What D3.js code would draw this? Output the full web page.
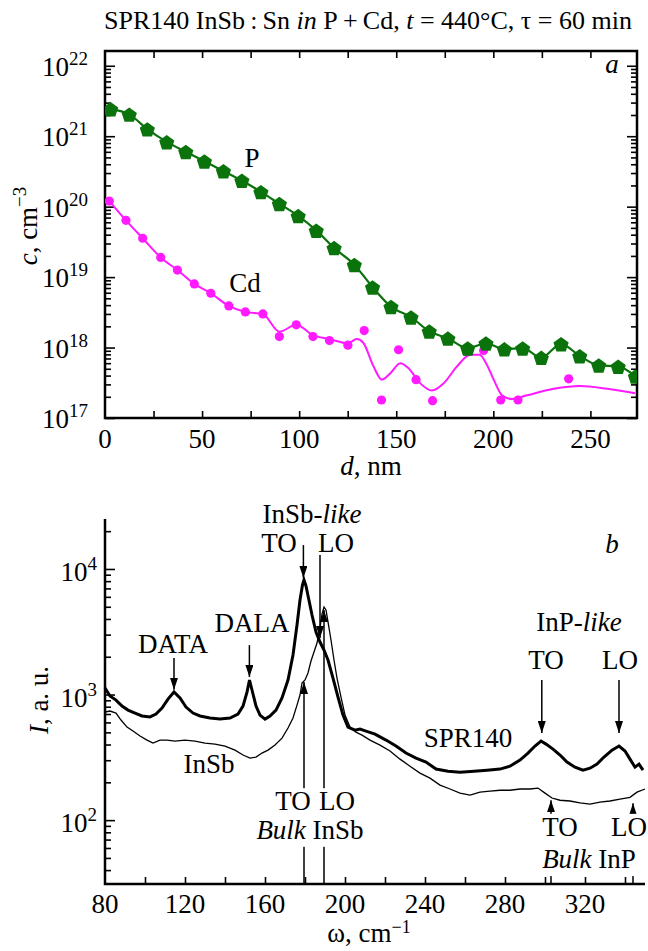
<!DOCTYPE html>
<html>
<head>
<meta charset="utf-8">
<script src="https://cdn.jsdelivr.net/npm/d3@7"></script>
<style>
  body { margin: 0; background: #fff; }
  svg { font-family: "Liberation Serif", "Times New Roman", serif; }
</style>
</head>
<body>
<svg id="chart" width="648" height="951"></svg>
<script>
// ---- panel a: depth profiles (d, nm ; c, cm^-3)
const pDepth = [2.9, 12.5, 21.8, 31.8, 41.6, 51.2, 61, 70.5, 80.3, 89.8, 99.5, 108.8, 118, 128.4, 137.8,
  147.3, 157.6, 167, 176.6, 186.8, 196.2, 205.7, 215.1, 224.7, 234.9, 244.5, 254.3, 264.3, 273.2];
const pConc = [2.43e21, 2.04e21, 1.26e21, 8.3e20, 6.0e20, 4.4e20, 3.2e20, 2.35e20, 1.62e20, 1.1e20, 7.4e19,
  4.6e19, 2.6e19, 1.5e19, 7.2e18, 3.8e18, 2.7e18, 1.7e18, 1.35e18, 9.8e17, 1.15e18, 9.5e17, 9.8e17, 7.2e17,
  1.12e18, 7.6e17, 5.6e17, 5.4e17, 3.9e17];

const cdDepth = [2.2, 10.8, 19.4, 28.7, 37.3, 46, 54.5, 63.8, 72.3, 81.3, 89.8, 98.5, 107.1, 115.6, 125.1,
  133.5, 142.4, 151.2, 160.2, 168.7, 186.4, 195, 203.8, 212.7, 238.8];
const cdConc = [1.2e20, 6.4e19, 3.56e19, 1.9e19, 1.26e19, 8.0e18, 5.9e18, 3.9e18, 3.2e18, 3.0e18, 1.43e18,
  2.1e18, 1.43e18, 1.26e18, 1.08e18, 1.74e18, 1.8e17, 9.3e17, 3.5e17, 1.76e17, 8.7e17, 9.1e17, 1.8e17,
  1.8e17, 3.6e17];

// smooth Cd fit line
const cdFitDepth = [2.2, 10.8, 19.4, 28.7, 37.3, 46, 54.5, 63.8, 72.3, 81.3, 89.8, 98.5, 107.1, 115.6, 125.1,
  129.7, 133, 138.3, 142.6, 146.9, 152.1, 156.3, 162.4, 168.4, 174.4, 181.3, 188.1, 192.9, 196.8, 200.2,
  204.5, 209.6, 217.4, 231.1, 244.8, 258.6, 273.2];
const cdFitConc = [1.2e20, 6.4e19, 3.56e19, 1.9e19, 1.26e19, 8.0e18, 5.9e18, 3.9e18, 3.2e18, 3.0e18, 1.68e18,
  2.1e18, 1.5e18, 1.32e18, 1.15e18, 1.32e18, 1.17e18, 5.4e17, 3.5e17, 4.3e17, 6.0e17, 5.1e17, 3.1e17,
  2.45e17, 3.1e17, 5.4e17, 7.9e17, 7.9e17, 5.6e17, 3.5e17, 2.1e17, 1.86e17, 2.1e17, 2.6e17, 2.85e17,
  2.6e17, 2.24e17];

const depthTicks = [0, 50, 100, 150, 200, 250];
const concDecades = [17, 18, 19, 20, 21, 22];

// ---- panel b: Raman spectra (omega, cm^-1 ; I, a.u.)
const sprW = [80, 82.5, 85.5, 88.5, 91.5, 95, 98.5, 102.5, 105.5, 108.5, 111.5, 114.5, 117.5, 120.5, 124,
  127.5, 132.5, 137.5, 142.5, 146.5, 149, 151, 152.25, 153.5, 155.5, 157.5, 160, 162.5, 165.5, 168.5, 171.5,
  174, 176, 177.5, 178.75, 179.5, 180.5, 181.75, 183.5, 185.5, 187.5, 189.5, 191.5, 194, 196.5, 199, 201.5,
  205, 207.5, 210.5, 215, 220.5, 225.5, 230.5, 235.5, 240.5, 245.5, 251.5, 257.5, 264.5, 271, 277.5, 282.5,
  287.5, 291.5, 295, 298, 300.5, 304, 307.5, 311, 315, 319, 322.5, 326, 329.5, 333.5, 337, 340, 342.5, 345,
  347, 349];
const sprI = [1128, 973, 903, 809, 752, 712, 675, 663, 700, 780, 920, 1047, 938, 795, 712, 675, 650, 638, 650,
  700, 809, 1047, 1306, 1087, 809, 686, 638, 675, 752, 938, 1306, 2065, 3580, 5660, 7460, 8170, 7330, 5880,
  4300, 3145, 2620, 2263, 1884, 1352, 955, 686, 551, 521, 531, 512, 484, 434, 389, 342, 312, 290, 255, 245,
  241, 245, 250, 255, 269, 301, 342, 389, 426, 403, 368, 330, 290, 264, 250, 259, 279, 318, 361, 389, 355,
  306, 264, 279, 250];

const insbW = [80, 82.5, 85.5, 88, 91, 94, 97.5, 101, 104, 107.5, 111, 115, 120, 125, 130, 135, 140, 145, 149,
  152.5, 155.5, 158.5, 161.5, 165, 168.5, 171.5, 174, 176, 177.5, 178.5, 180, 181.5, 183, 184.5, 186, 187.5,
  188.5, 189.5, 190.5, 191.5, 193, 194.5, 196, 198, 200, 202.5, 205.5, 208.5, 212.5, 217.5, 222.5, 227.5,
  232.5, 237.5, 242.5, 247.5, 252.5, 257.5, 262.5, 267.5, 272.5, 277.5, 282.5, 287.5, 292.5, 296.5, 300,
  303.5, 307.5, 312.5, 317.5, 322.5, 327.5, 332.5, 337.5, 342.5, 346, 350];
const insbI = [726, 739, 712, 627, 551, 512, 467, 434, 411, 434, 434, 426, 434, 426, 411, 403, 389, 361, 330,
  312, 318, 342, 361, 396, 450, 541, 650, 824, 991, 1236, 1306, 1484, 1849, 2182, 2572, 3388, 4378, 4977,
  4713, 3784, 2719, 1884, 1352, 955, 686, 551, 502, 475, 434, 396, 355, 306, 269, 237, 216, 190, 177, 164,
  158, 167, 170, 173, 173, 177, 177, 180, 164, 150, 144, 142, 137, 134, 139, 142, 147, 152, 167, 177];

const omegaTicks = [80, 120, 160, 200, 240, 280, 320];
const intDecades = [2, 3, 4];

// arrows: [omega, from I, to I]
const downArrows = [[114.5, 1955, 1090], [152.2, 2475, 1380], [179.2, 15500, 8470], [187.5, 12930, 2820],
  [298.4, 1306, 493], [337, 1306, 493]];
const upArrows = [[179.5, 31, 1259], [189.5, 31, 4710], [303, 31, 144], [344, 31, 136]];

const svg = d3.select("#chart");
const FS = 27;

// ================= panel a =================
const xa = d3.scaleLinear().domain([0, 274]).range([105, 637]);
const ya = d3.scaleLog().domain([1e17, 1.62e22]).range([418, 51]);

function logMinors(lo, hi) {
  const out = [];
  for (let e = lo; e < hi; e++) for (let m = 2; m <= 9; m++) out.push(m * Math.pow(10, e));
  return out;
}

const ga = svg.append("g");
ga.append("rect").attr("x", 105).attr("y", 51).attr("width", 532).attr("height", 367)
  .attr("fill", "none").attr("stroke", "#000").attr("stroke-width", 2.5);

function tickAxis(g, axis) {
  g.call(axis);
  g.select(".domain").remove();
  g.selectAll(".tick line").attr("stroke", "#000").attr("stroke-width", 1.6);
  g.selectAll(".tick text").remove();
}
const aMaj = concDecades.map(e => Math.pow(10, e));
const aMin = logMinors(17, 22).concat([2e22]).filter(v => v <= 1.62e22);
tickAxis(ga.append("g").attr("transform", "translate(105,0)"), d3.axisLeft(ya).tickValues(aMaj).tickSize(-10));
tickAxis(ga.append("g").attr("transform", "translate(105,0)"), d3.axisLeft(ya).tickValues(aMin).tickSize(-6));
tickAxis(ga.append("g").attr("transform", "translate(637,0)"), d3.axisRight(ya).tickValues(aMaj).tickSize(-10));
tickAxis(ga.append("g").attr("transform", "translate(637,0)"), d3.axisRight(ya).tickValues(aMin).tickSize(-6));
const dTicks = d3.range(25, 274, 25);
tickAxis(ga.append("g").attr("transform", "translate(0,418)"), d3.axisBottom(xa).tickValues(dTicks).tickSize(-7));
tickAxis(ga.append("g").attr("transform", "translate(0,51)"), d3.axisTop(xa).tickValues(dTicks).tickSize(-7));

// tick labels
ga.selectAll(".xlab").data(depthTicks).join("text")
  .attr("x", d => xa(d)).attr("y", 448).attr("text-anchor", "middle").attr("font-size", FS).text(d => d);

function powLabel(g, yPos, xEnd, e) {
  const t = g.append("text").attr("x", xEnd).attr("y", yPos).attr("text-anchor", "end").attr("font-size", FS);
  t.append("tspan").text("10");
  t.append("tspan").attr("font-size", 19).attr("dy", -11).text(e);
}
concDecades.forEach(e => powLabel(ga, ya(Math.pow(10, e)) + 10, 88, e));

// axis titles
ga.append("text").attr("x", 371).attr("y", 475).attr("text-anchor", "middle").attr("font-size", FS)
  .call(t => { t.append("tspan").attr("font-style", "italic").text("d"); t.append("tspan").text(", nm"); });
ga.append("text").attr("transform", "translate(37,226) rotate(-90)").attr("text-anchor", "middle")
  .attr("font-size", FS)
  .call(t => {
    t.append("tspan").attr("font-style", "italic").text("c");
    t.append("tspan").text(", cm");
    t.append("tspan").attr("font-size", 19).attr("dy", -11).text("\u22123");
  });

// data
const clipA = svg.append("clipPath").attr("id", "clipA");
clipA.append("rect").attr("x", 105).attr("y", 51).attr("width", 532).attr("height", 367);
const plotA = ga.append("g").attr("clip-path", "url(#clipA)");

const green = "#0b730b", magenta = "#ff1aff";
const lineA = d3.line().x(d => xa(d[0])).y(d => ya(d[1])).curve(d3.curveMonotoneX);

plotA.append("path").datum(d3.zip(cdFitDepth, cdFitConc)).attr("d", lineA)
  .attr("fill", "none").attr("stroke", magenta).attr("stroke-width", 2);
plotA.selectAll(".cd").data(d3.zip(cdDepth, cdConc)).join("circle")
  .attr("cx", d => xa(d[0])).attr("cy", d => ya(d[1])).attr("r", 4.6).attr("fill", magenta);

plotA.append("path").datum(d3.zip(pDepth, pConc)).attr("d", lineA)
  .attr("fill", "none").attr("stroke", green).attr("stroke-width", 2.2);
const pent = d3.range(5).map(k => {
  const a = -Math.PI / 2 + k * 2 * Math.PI / 5;
  return [8 * Math.cos(a), 8 * Math.sin(a) + 1];
});
plotA.selectAll(".p").data(d3.zip(pDepth, pConc)).join("path")
  .attr("d", "M" + pent.join("L") + "Z")
  .attr("transform", d => `translate(${xa(d[0])},${ya(d[1])})`)
  .attr("fill", green);

ga.append("text").attr("x", 252).attr("y", 167).attr("text-anchor", "middle").attr("font-size", FS).text("P");
ga.append("text").attr("x", 245).attr("y", 292).attr("text-anchor", "middle").attr("font-size", FS).text("Cd");
ga.append("text").attr("x", 612).attr("y", 73).attr("text-anchor", "middle").attr("font-size", FS)
  .attr("font-style", "italic").text("a");

// title
svg.append("text").attr("x", 368).attr("y", 29).attr("text-anchor", "middle").attr("font-size", 26)
  .call(t => {
    t.append("tspan").text("SPR140 InSb\u2009:\u2009Sn ");
    t.append("tspan").attr("font-style", "italic").text("in");
    t.append("tspan").text(" P\u2009+\u2009Cd, ");
    t.append("tspan").attr("font-style", "italic").text("t");
    t.append("tspan").text(" = 440\u00b0C, \u03c4 = 60 min");
  });

// ================= panel b =================
const xb = d3.scaleLinear().domain([80, 350]).range([105, 645]);
const yb = d3.scaleLog().domain([31, 25000]).range([884, 519]);
const gb = svg.append("g");

const bMaj = intDecades.map(e => Math.pow(10, e));
const bMin = logMinors(1, 4).concat([2e4]).filter(v => v >= 31 && v <= 25000);
tickAxis(gb.append("g").attr("transform", "translate(105,0)"), d3.axisLeft(yb).tickValues(bMaj).tickSize(-10));
tickAxis(gb.append("g").attr("transform", "translate(105,0)"), d3.axisLeft(yb).tickValues(bMin).tickSize(-6));
tickAxis(gb.append("g").attr("transform", "translate(0,884)"),
  d3.axisBottom(xb).tickValues(d3.range(100, 350, 20)).tickSize(-7));
gb.append("path").attr("d", "M105,519V884H645").attr("fill", "none").attr("stroke", "#000").attr("stroke-width", 2.5);

gb.selectAll(".xlab").data(omegaTicks).join("text")
  .attr("x", d => xb(d)).attr("y", 913).attr("text-anchor", "middle").attr("font-size", FS).text(d => d);
intDecades.forEach(e => powLabel(gb, yb(Math.pow(10, e)) + 12, 97, e));

gb.append("text").attr("x", 369).attr("y", 942).attr("text-anchor", "middle").attr("font-size", FS)
  .call(t => {
    t.append("tspan").text("\u03c9, cm");
    t.append("tspan").attr("font-size", 18).attr("dy", -9).text("\u22121");
  });
gb.append("text").attr("transform", "translate(48,700) rotate(-90)").attr("text-anchor", "middle")
  .attr("font-size", FS)
  .call(t => { t.append("tspan").attr("font-style", "italic").text("I"); t.append("tspan").text(", a. u."); });

const lineB = d3.line().x(d => xb(d[0])).y(d => yb(d[1]));
gb.append("path").datum(d3.zip(insbW, insbI)).attr("d", lineB)
  .attr("fill", "none").attr("stroke", "#000").attr("stroke-width", 1.3);
gb.append("path").datum(d3.zip(sprW, sprI)).attr("d", lineB)
  .attr("fill", "none").attr("stroke", "#000").attr("stroke-width", 3);

// arrows
const defs = svg.append("defs");
defs.append("marker").attr("id", "ah").attr("markerUnits", "userSpaceOnUse")
  .attr("markerWidth", 12).attr("markerHeight", 8).attr("refX", 12).attr("refY", 4).attr("orient", "auto")
  .append("path").attr("d", "M0,0L12,4L0,8Z").attr("fill", "#000");
gb.selectAll(".arr").data(downArrows.concat(upArrows)).join("line")
  .attr("x1", d => xb(d[0])).attr("x2", d => xb(d[0]))
  .attr("y1", d => yb(d[1])).attr("y2", d => yb(d[2]))
  .attr("stroke", "#000").attr("stroke-width", 1.5).attr("marker-end", "url(#ah)");

// labels
function label(g, x, y, parts, anchor) {
  const t = g.append("text").attr("x", x).attr("y", y).attr("text-anchor", anchor || "middle").attr("font-size", FS);
  parts.forEach(p => t.append("tspan").attr("font-style", p[1] ? "italic" : null).text(p[0]));
  return t;
}
label(gb, xb(114), yb(2140), [["DATA"]]);
label(gb, xb(153.5), yb(3160), [["DALA"]]);
label(gb, xb(183.5), yb(23300), [["InSb-"], ["like", 1]]);
label(gb, xb(167), yb(13600), [["TO"]]);
label(gb, xb(195.5), yb(13600), [["LO"]]);
label(gb, xb(132), yb(237), [["InSb"]]);
label(gb, xb(261.5), yb(384), [["SPR140"]]);
label(gb, xb(317), yb(3200), [["InP-"], ["like", 1]]);
label(gb, xb(300.5), yb(1600), [["TO"]]);
label(gb, xb(337.5), yb(1600), [["LO"]]);
label(gb, 612, 553, [["b", 1]]);

function boxed(lines) {
  const g = gb.append("g");
  const rect = g.append("rect").attr("fill", "#fff");
  lines.forEach(l => label(g, l[0], l[1], l[2]));
  const bb = g.node().getBBox();
  rect.attr("x", bb.x - 2).attr("y", bb.y + 2).attr("width", bb.width + 4).attr("height", bb.height);
}
boxed([[xb(174), yb(120), [["TO"]]], [xb(196), yb(120), [["LO"]]], [xb(182.5), yb(71), [["Bulk", 1], [" InSb"]]]]);
boxed([[xb(307.5), yb(75), [["TO"]]], [xb(342), yb(75), [["LO"]]], [xb(322), yb(41.5), [["Bulk", 1], [" InP"]]]]);
</script>
</body>
</html>
